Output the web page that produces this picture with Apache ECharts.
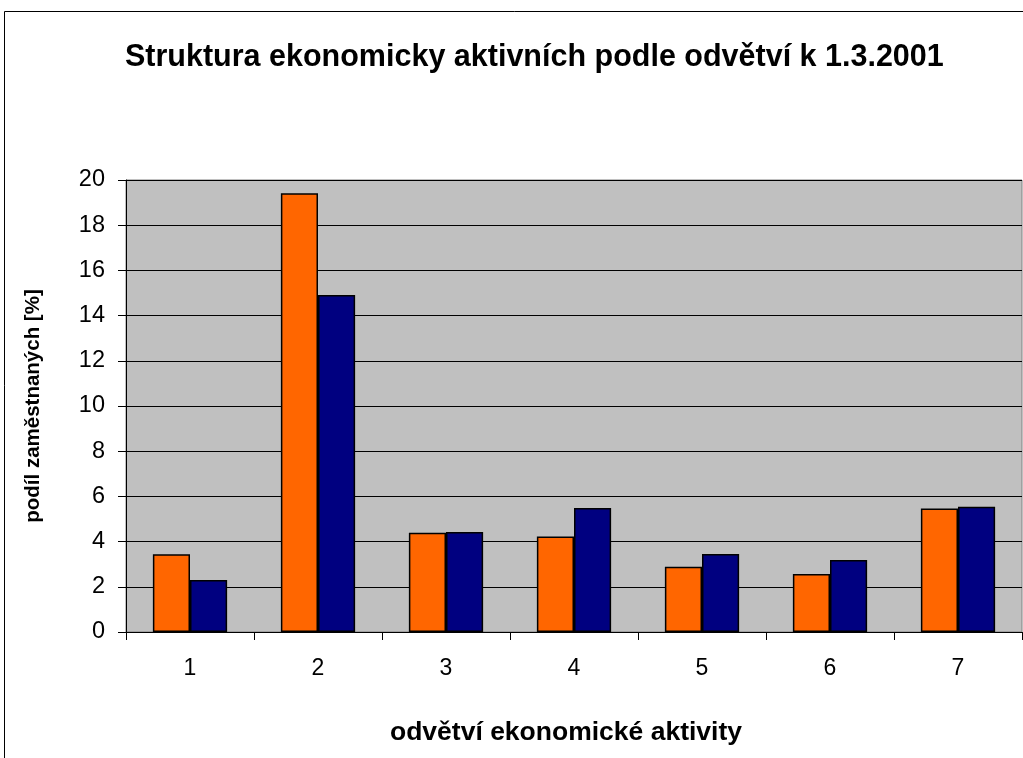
<!DOCTYPE html>
<html>
<head>
<meta charset="utf-8">
<script src="https://cdn.jsdelivr.net/npm/echarts@6/dist/echarts.min.js"></script>
<style>html,body{margin:0;padding:0;background:#fff}#c{width:1023px;height:758px}</style>
</head>
<body>
<div id="c"></div>
<script>
const categories = ['1','2','3','4','5','6','7'];
const seriesOrange = [3.44, 19.41, 4.39, 4.23, 2.89, 2.57, 5.47];
const seriesBlue = [2.30, 14.91, 4.42, 5.49, 3.45, 3.19, 5.54];
const titleText = 'Struktura ekonomicky aktivních podle odvětví k 1.3.2001';
const yAxisName = 'podíl zaměstnaných [%]';
const xAxisName = 'odvětví ekonomické aktivity';

const chart = echarts.init(document.getElementById('c'), null, {renderer: 'canvas'});
const font = 'Liberation Sans, Arial, sans-serif';
chart.setOption({
  animation: false,
  backgroundColor: '#fff',
  graphic: [
    {type: 'rect', shape: {x: 4.5, y: 11.5, width: 1100, height: 800}, style: {fill: 'none', stroke: '#000', lineWidth: 1}, silent: true, z: -1}
  ],
  title: {
    text: titleText, left: 120, top: 37,
    textStyle: {fontFamily: font, fontSize: 30.5, fontWeight: 'bold', color: '#000'}
  },
  grid: {left: 126, right: 1, top: 180, bottom: 126, show: true, backgroundColor: '#C0C0C0', borderColor: '#808080', borderWidth: 1},
  xAxis: {
    type: 'category', data: categories,
    name: xAxisName, nameLocation: 'middle', nameGap: 87,
    nameTextStyle: {fontFamily: font, fontSize: 26.5, fontWeight: 'bold', color: '#000', padding: [0, 16, 0, 0]},
    axisLine: {lineStyle: {color: '#000', width: 1}},
    axisTick: {show: true, length: 8, lineStyle: {color: '#000'}},
    axisLabel: {fontFamily: font, fontSize: 23, color: '#000', margin: 25},
    splitLine: {show: false}
  },
  yAxis: {
    type: 'value', min: 0, max: 20, interval: 2,
    name: yAxisName, nameLocation: 'middle', nameGap: 82,
    nameTextStyle: {fontFamily: font, fontSize: 20.5, fontWeight: 'bold', color: '#000'},
    axisLine: {show: true, lineStyle: {color: '#000', width: 1}},
    axisTick: {show: true, length: 8, lineStyle: {color: '#000'}},
    axisLabel: {fontFamily: font, fontSize: 23.5, color: '#000', margin: 21},
    splitLine: {show: true, lineStyle: {color: '#000', width: 1}}
  },
  series: [
    {type: 'bar', data: seriesOrange, barGap: '0%', barCategoryGap: '42%',
     itemStyle: {color: '#FF6600', borderColor: '#000', borderWidth: 1.5}},
    {type: 'bar', data: seriesBlue,
     itemStyle: {color: '#000080', borderColor: '#000', borderWidth: 1.5}}
  ]
});
</script>
</body>
</html>
